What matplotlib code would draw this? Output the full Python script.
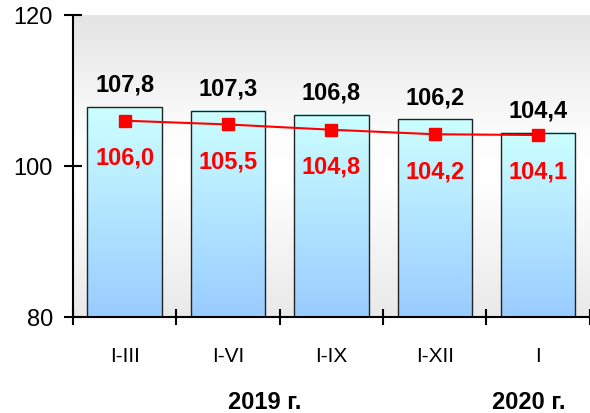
import numpy as np
import matplotlib
matplotlib.use("Agg")
import matplotlib.pyplot as plt
from matplotlib.colors import LinearSegmentedColormap

plt.rcParams['font.family'] = ['Liberation Sans', 'DejaVu Sans']

# %% data
categories = ['I-III', 'I-VI', 'I-IX', 'I-XII', 'I']
bar_values = [107.8, 107.3, 106.8, 106.2, 104.4]
line_values = [106.0, 105.5, 104.8, 104.2, 104.1]
bar_labels = ['107,8', '107,3', '106,8', '106,2', '104,4']
line_labels = ['106,0', '105,5', '104,8', '104,2', '104,1']
year_labels = ['2019 г.', '2020 г.']

# %% figure
fig = plt.figure(figsize=(5.9, 4.14), dpi=100)
ax = fig.add_axes([0.1237, 0.2319, 0.876, 0.7295])
ymin, ymax = 80, 120
ax.set_xlim(-0.5, len(categories) - 0.5)
ax.set_ylim(ymin, ymax)

# background gradient (gray - white - gray)
bg_cmap = LinearSegmentedColormap.from_list(
    'bg', [(0.0, '#e9e9e9'), (0.45, '#ffffff'), (0.6, '#fdfdfd'), (1.0, '#e4e4e4')])
grad = np.linspace(0, 1, 256).reshape(-1, 1)
ax.imshow(grad, aspect='auto', cmap=bg_cmap, origin='lower',
          extent=(-0.5, len(categories) - 0.5, ymin, ymax), zorder=0)

# bars with vertical gradient
bar_cmap = LinearSegmentedColormap.from_list('bar', ['#99ccff', '#ccffff'])
x = np.arange(len(categories))
w = 0.72
for xi, v in zip(x, bar_values):
    ax.imshow(grad, aspect='auto', cmap=bar_cmap, origin='lower',
              extent=(xi - w / 2, xi + w / 2, ymin, v), zorder=1)
ax.bar(x, np.array(bar_values) - ymin, bottom=ymin, width=w,
       facecolor='none', edgecolor='#222222', linewidth=1.0, zorder=2)

# line
ax.plot(x, line_values, color='red', linewidth=1.5, marker='s',
        markersize=8, zorder=3)

for xi, v, lab in zip(x, bar_values, bar_labels):
    ax.text(xi, v + 3.0, lab, ha='center', va='center', fontsize=17,
            fontweight='bold', color='black', zorder=4)
for xi, v, lab in zip(x, line_values, line_labels):
    ax.text(xi, v - 4.8, lab, ha='center', va='center', fontsize=17,
            fontweight='bold', color='red', zorder=4)

# axes styling
for s in ['top', 'right']:
    ax.spines[s].set_visible(False)
for s in ['left', 'bottom']:
    ax.spines[s].set_linewidth(1.5)
    ax.spines[s].set_zorder(5)

ax.set_yticks([80, 100, 120])
ax.tick_params(axis='y', direction='inout', length=13, width=1.5,
               labelsize=17, pad=8)
ax.set_xticks(np.arange(-0.5, len(categories)), minor=False)
ax.set_xticklabels([])
ax.tick_params(axis='x', direction='inout', length=12, width=1.5)
ax.set_xticks(x, minor=True)
ax.set_xticklabels(categories, minor=True)
ax.tick_params(axis='x', which='minor', length=0, labelsize=15, pad=21)

# year labels
ax.text(1.35, -0.28, year_labels[0], transform=ax.get_xaxis_transform(),
        ha='center', va='center', fontsize=17, fontweight='bold')
ax.text(3.91, -0.28, year_labels[1], transform=ax.get_xaxis_transform(),
        ha='center', va='center', fontsize=17, fontweight='bold')

fig.savefig('out.png', dpi=100)
